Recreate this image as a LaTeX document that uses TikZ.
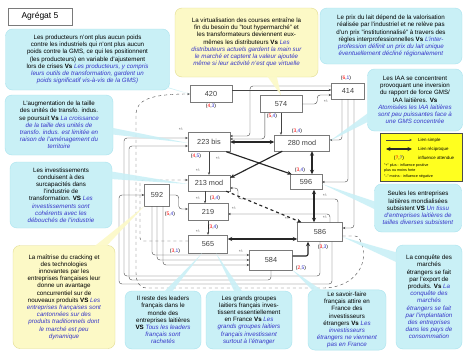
\documentclass[tikz,border=0pt]{standalone}
\usepackage{fontspec}
\setmainfont{Liberation Sans}
\usetikzlibrary{arrows.meta,calc}
\definecolor{cyanf}{HTML}{C9F0F6}
\definecolor{cyand}{HTML}{A9E3EE}
\definecolor{yelf}{HTML}{FCF9C6}
\definecolor{yeld}{HTML}{E2DC90}
\definecolor{legy}{HTML}{FFFF1F}
\definecolor{vsblue}{HTML}{3636C8}
\definecolor{boxgray}{HTML}{7A7A7A}
\definecolor{lng}{HTML}{444444}
\newcommand{\vs}[1]{\textcolor{vsblue}{\textit{#1}}}
\newcommand{\rb}[2]{(\textcolor{red}{#1},\textcolor{vsblue}{#2})}
\begin{document}
\begin{tikzpicture}[x=1pt,y=-1pt,
  cbox/.style={draw=cyand, fill=cyanf, rounded corners=7pt, align=center, inner sep=2pt, font=\fontsize{6.2}{7.2}\selectfont},
  ybox/.style={draw=yeld, fill=yelf, rounded corners=7pt, align=center, inner sep=2pt, font=\fontsize{6.2}{7.2}\selectfont},
  nbox/.style={draw=boxgray, fill=white, text=black!75, inner sep=0pt, font=\fontsize{7.3}{8}\selectfont},
  tbox/.style={draw=boxgray, line width=0.8pt, fill=white, inner sep=0pt, font=\fontsize{8.5}{9}\selectfont},
  thk/.style={line width=1.15pt, draw=black!85},
  ar/.style={-{Stealth[length=4.5pt,width=4pt]}},
  br/.style={{Stealth[length=4.5pt,width=4pt]}-{Stealth[length=4.5pt,width=4pt]}},
  thn/.style={draw=lng, line width=0.4pt, rounded corners=3pt, -{Stealth[length=2.6pt,width=2.2pt]}},
  pm/.style={font=\fontsize{3.6}{4}\selectfont, text=black!70, inner sep=0pt},
  lab/.style={font=\fontsize{5}{5.5}\selectfont, inner sep=0pt},
  lg/.style={font=\fontsize{4.4}{5}\selectfont, inner sep=0pt, anchor=west},
  lgs/.style={font=\fontsize{3.7}{4.2}\selectfont, inner sep=0pt, anchor=west},
  ctail/.style={fill=cyanf, opacity=0.88},
  ytail/.style={fill=yelf, opacity=0.9}]
\useasboundingbox (0,0) rectangle (464,351);
\fill[white] (0,0) rectangle (464,351);

% ---------- callouts ----------
\node[tbox, minimum width=64pt, minimum height=17pt] (title) at (40,16.5) {Agrégat 5};
\node[cbox, minimum width=164pt, minimum height=61pt] (c1) at (87.5,59.5) {Les producteurs n'ont plus aucun poids\\contre les industriels qui n'ont plus aucun\\poids contre la GMS, ce qui les positionnent\\(les producteurs) en variable d'ajustement\\lors de crises \textbf{Vs} \vs{Les producteurs, y compris}\\\vs{leurs outils de transformation, gardent un}\\\vs{poids significatif vis-à-vis de la GMS)}};
\node[cbox, minimum width=108pt, minimum height=60pt] (c2) at (59,125) {L'augmentation de la taille\\des unités de transfo. indus.\\se poursuit \textbf{Vs} \vs{La croissance}\\\vs{de la taille des unités de}\\\vs{transfo. indus. est limitée en}\\\vs{raison de l'aménagement du}\\\vs{territoire}};
\node[cbox, minimum width=102pt, minimum height=66pt] (c3) at (61,195) {Les investissements\\conduisent à des\\surcapacités dans\\l'industrie de\\transformation. \textbf{VS} \vs{Les}\\\vs{investissements sont}\\\vs{cohérents avec les}\\\vs{débouchés de l'industrie}};
\node[ybox, minimum width=102pt, minimum height=103pt] (c4) at (64,297) {La maîtrise du cracking et\\des technologies\\innovantes par les\\entreprises françaises leur\\donne un avantage\\concurrentiel sur de\\nouveaux produits \textbf{VS} \vs{Les}\\\vs{entreprises françaises sont}\\\vs{cantonnées sur des}\\\vs{produits traditionnels dont}\\\vs{le marché est peu}\\\vs{dynamique}};
\node[cbox, minimum width=76pt, minimum height=58pt] (c5) at (163,320) {Il reste des leaders\\français dans le\\monde des\\entreprises laitières\\\textbf{VS} \vs{Tous les leaders}\\\vs{français sont}\\\vs{rachetés}};
\node[cbox, minimum width=86pt, minimum height=58pt] (c6) at (249,320) {Les grands groupes\\laitiers français inves-\\tissent essentiellement\\en France \textbf{Vs} \vs{Les}\\\vs{grands groupes laitiers}\\\vs{français investissent}\\\vs{surtout à l'étranger}};
\node[cbox, minimum width=78pt, minimum height=60pt] (c7) at (347,320) {Le savoir-faire\\français attire en\\France des\\investisseurs\\étrangers \textbf{Vs} \vs{Les}\\\vs{investisseurs}\\\vs{étrangers ne viennent}\\\vs{pas en France}};
\node[cbox, minimum width=66pt, minimum height=104pt] (c8) at (429,297) {La conquête des\\marchés\\étrangers se fait\\par l'export de\\produits. \textbf{Vs} \vs{La}\\\vs{conquête des}\\\vs{marchés}\\\vs{étrangers se fait}\\\vs{par l'implantation}\\\vs{des entreprises}\\\vs{dans les pays de}\\\vs{consommation}};
\node[cbox, minimum width=87pt, minimum height=48pt] (c9) at (418,208) {Seules les entreprises\\laitières mondialisées\\subsistent \textbf{VS} \vs{Un tissu}\\\vs{d'entreprises laitières de}\\\vs{tailles diverses subsistent}};
\node[cbox, minimum width=95pt, minimum height=62pt] (c10) at (415,100) {Les IAA se concentrent\\provoquant une inversion\\du rapport de force GMS/\\IAA laitières. \textbf{Vs}\\\vs{Atomisées les IAA laitières}\\\vs{sont peu puissantes face à}\\\vs{une GMS concentrée}};
\node[cbox, minimum width=142pt, minimum height=56pt] (c11) at (391,36) {Le prix du lait dépend de la valorisation\\réalisée par l'industriel et ne relève pas\\d'un prix "institutionnalisé" à travers des\\règles interprofessionnelles \textbf{Vs} \vs{L'inter-}\\\vs{profession définit un prix du lait unique}\\\vs{éventuellement décliné régionalement}};
\node[ybox, minimum width=143pt, minimum height=69pt] (c12) at (246.5,42.5) {La virtualisation des courses entraîne la\\fin du besoin du "tout hypermarché" et\\les transformateurs deviennent eux-\\mêmes les distributeurs \textbf{Vs} \vs{Les}\\\vs{distributeurs actuels gardent la main sur}\\\vs{le marché et captent la valeur ajoutée}\\\vs{même si leur activité n'est que virtuelle}};

% ---------- legend ----------
\node[draw=black!70, fill=legy, minimum width=82pt, minimum height=48pt, inner sep=0pt] (leg) at (421,157) {};
\coordinate (la1) at (386,140); \coordinate (la2) at (412,140);
\draw[thn] (la1) -- (la2);
\node[lg] (lt1) at (418,140) {Lien simple};
\coordinate (lb1) at (386,149); \coordinate (lb2) at (412,149);
\draw[thk, br] (lb1) -- (lb2);
\node[lg] (lt2) at (418,149) {Lien réciproque};
\node[lab] (lr3) at (399,158) {\rb{?}{?}};
\node[lg] (lt3) at (418,158) {influence attendue};
\node[lgs] (lt4) at (384,166) {"+" plus : influence positive};
\node[lgs] (lt5) at (384,171) {plus ou moins forte};
\node[lgs] (lt6) at (384,177) {"--" moins : influence négative};

% ---------- variable nodes ----------
\node[nbox, minimum width=42pt, minimum height=17pt] (n420) at (211,94) {420};
\node[nbox, minimum width=42pt, minimum height=17pt] (n574) at (281,104) {574};
\node[nbox, minimum width=33pt, minimum height=16pt] (n414) at (348,91) {414};
\node[nbox, minimum width=42pt, minimum height=19pt] (n223) at (209,142) {223 bis};
\node[nbox, minimum width=55pt, minimum height=16pt] (n280) at (302,143) {280 mod};
\node[nbox, minimum width=42pt, minimum height=16pt] (n213) at (209,183) {213 mod};
\node[nbox, minimum width=32pt, minimum height=15pt] (n596) at (306,182) {596};
\node[nbox, minimum width=25pt, minimum height=22pt] (n592) at (157,195) {592};
\node[nbox, minimum width=40pt, minimum height=17pt] (n219) at (208,212) {219};
\node[nbox, minimum width=39pt, minimum height=18pt] (n565) at (208,244) {565};
\node[nbox, minimum width=43pt, minimum height=20pt] (n584) at (271,260) {584};
\node[nbox, minimum width=45pt, minimum height=19pt] (n586) at (320,232) {586};

% ---------- thin links ----------
\draw[thn] (n223.south) -- (n213.north);
\draw[thn] ($(n213.south)+(-4,0)$) -- ($(n219.north)+(-3,0)$);
\draw[thn] (n219.south) -- (n565.north);
\draw[thn] (n592.east) -- ++(9,0) |- ($(n219.west)+(0,-3)$);
\draw[thn] (n574.south) -- (n574.south |- n280.north);
\draw[thn] ($(n420.east)+(0,-4)$) -- (n414.west |- 0,90);
\draw[thn] (n574.east) -- ++(15,0) |- ($(n414.west)+(0,4)$);
\draw[thn] ($(n414.west)+(0,-5)$) -- (250,86) -- (250,136) -- ($(n223.east)+(0,-6)$);
\draw[thn] ($(n574.south west)+(5,0)$) |- ($(n223.east)+(0,-3)$);
\draw[thn] ($(n414.south)+(-6,0)$) |- ($(n280.east)+(0,-3)$);
\draw[thn] (n414.south) |- (n596.east);
\draw[thn] ($(n414.south)+(6,0)$) |- ($(n586.east)+(0,-4)$);
\draw[thn] ($(n586.north)+(10,0)$) |- ($(n219.east)+(0,2)$);
\draw[thn] ($(n586.north)+(18,0)$) |- (238,199) |- ($(n213.east)+(0,5)$);
\draw[thn, dashed] ($(n565.west)+(0,-3)$) -- (140,241) -- (140,180) -- ($(n213.west)+(0,-3)$);
\draw[thn] ($(n592.south)+(-5,0)$) |- ($(n584.west)+(0,-5)$);
\draw[thn] (n592.south) |- (n584.west);
\draw[thn] ($(n592.south)+(6,0)$) |- ($(n584.west)+(0,5)$);
\draw[thn] (n586.south) -- (320,276) -- (124,276) -- (124,138) -- ($(n223.west)+(0,-4)$);
\draw[thn] (n584.south) -- (271,280) -- (129,280) -- (129,146) -- ($(n223.west)+(0,4)$);
\draw[thn] ($(n586.south)+(12,0)$) -- (332,284) -- (119,284) -- (119,195) -- (n592.west);
\draw[thn, dashed] ($(n586.east)+(0,4)$) -- (358,236) .. controls (372,262) and (355,288) .. (320,288) -- (150,288) .. controls (138,288) and (136,280) .. (136,270) -- (136,118) .. controls (136,100) and (150,94) .. (n420.west);

% ---------- thick links ----------
\draw[thk, br] (n223.east) -- (n280.west |- n223.east);
\draw[thk, ar] ($(n223.south east)+(-4,0)$) -- ($(n596.north west)+(2,0)$);
\draw[thk, ar] ($(n280.south west)+(8,0)$) -- ($(n213.north east)+(0,3)$);
\draw[thk, br] ($(n280.south)+(10,0)$) -- ($(n596.north)+(6,0)$);
\coordinate (p596) at ($(n596.south)+(8,0)$);
\draw[thk, br] (p596) -- (p596 |- n586.north);
\coordinate (p565) at ($(n565.east)+(0,-5)$);
\draw[thk, br] (p565) -- (n586.west |- p565);
\draw[thk, ar, rounded corners=2pt] ($(n584.east)+(0,-4)$) -| ($(n586.south)+(-12,0)$);
\draw[thk, ar, dashed] ($(n213.south east)+(-4,0)$) -- ($(n586.north west)+(4,0)$);

% ---------- labels ----------
\node[lab] (l420) at (211,106) {\rb{4}{3}};
\node[lab] (l574) at (272,116.5) {\rb{5}{4}};
\node[lab] (l414) at (346,78) {\rb{6}{1}};
\node[lab] (l223) at (196,156) {\rb{4}{5}};
\node[lab] (l280) at (297,131) {\rb{3}{4}};
\node[lab] (l596) at (300,170) {\rb{3}{4}};
\node[lab] (l219a) at (215,198) {\rb{3}{4}};
\node[lab] (l219b) at (213,227) {\rb{3}{4}};
\node[lab] (l592) at (170,214) {\rb{5}{4}};
\node[lab] (l565) at (175,251) {\rb{3}{1}};
\node[lab] (l586) at (323,247) {\rb{3}{3}};
\node[lab] (l584) at (301,268) {\rb{2}{5}};
\node[pm] (pm1) at (181,129) {+/-};
\node[pm] (pm2) at (218,158) {+/-};
\node[pm] (pm3) at (198,170) {+/-};
\node[pm] (pm4) at (198,198) {+/-};
\node[pm] (pm5) at (234,208) {+/-};
\node[pm] (pm6) at (198,231) {+/-};
\node[pm] (pm7) at (241,251) {+/-};
\node[pm] (pm8) at (287,218) {+/-};
\node[pm] (pm9) at (325,195) {+/-};
\node[pm] (pm10) at (325,217) {+/-};
\node[pm] (pm11) at (326,101) {+/-};

% ---------- callout tails ----------
\fill[ctail] ($(c1.south east)+(-16,-6)$) -- ($(c1.south east)+(-5,-4)$) -- (n420.west) -- cycle;
\fill[ctail] ($(c2.east)+(-5,2)$) -- ($(c2.east)+(-5,9)$) -- ($(n223.west)+(0,1)$) -- cycle;
\fill[ctail] ($(c3.north east)+(-5,9)$) -- ($(c3.north east)+(-5,17)$) -- ($(n213.west)+(0,1)$) -- cycle;
\fill[ytail] ($(c4.north east)+(-22,2)$) -- ($(c4.north east)+(-10,2)$) -- (n592.south west) -- cycle;
\fill[ctail] ($(c5.north)+(0,2)$) -- ($(c5.north)+(8,2)$) -- ($(n565.south)+(-6,0)$) -- cycle;
\fill[ctail] ($(c6.north)+(-14,2)$) -- ($(c6.north)+(-6,2)$) -- ($(n565.south)+(8,0)$) -- cycle;
\fill[ctail] ($(c7.north west)+(6,2)$) -- ($(c7.north west)+(16,2)$) -- (n584.south east) -- cycle;
\fill[ctail] ($(c8.north west)+(2,8)$) -- ($(c8.north west)+(2,18)$) -- ($(n586.east)+(0,5)$) -- cycle;
\fill[ctail] ($(c9.west)+(2,-6)$) -- ($(c9.west)+(2,2)$) -- ($(n596.east)+(0,2)$) -- cycle;
\fill[ctail] ($(c10.south west)+(6,-22)$) -- ($(c10.south west)+(6,-12)$) -- ($(n280.east)+(0,-2)$) -- cycle;
\fill[ytail] ($(c12.south)+(20,-2)$) -- ($(c12.south)+(30,-2)$) -- (n574.north) -- cycle;
\end{tikzpicture}
\end{document}
